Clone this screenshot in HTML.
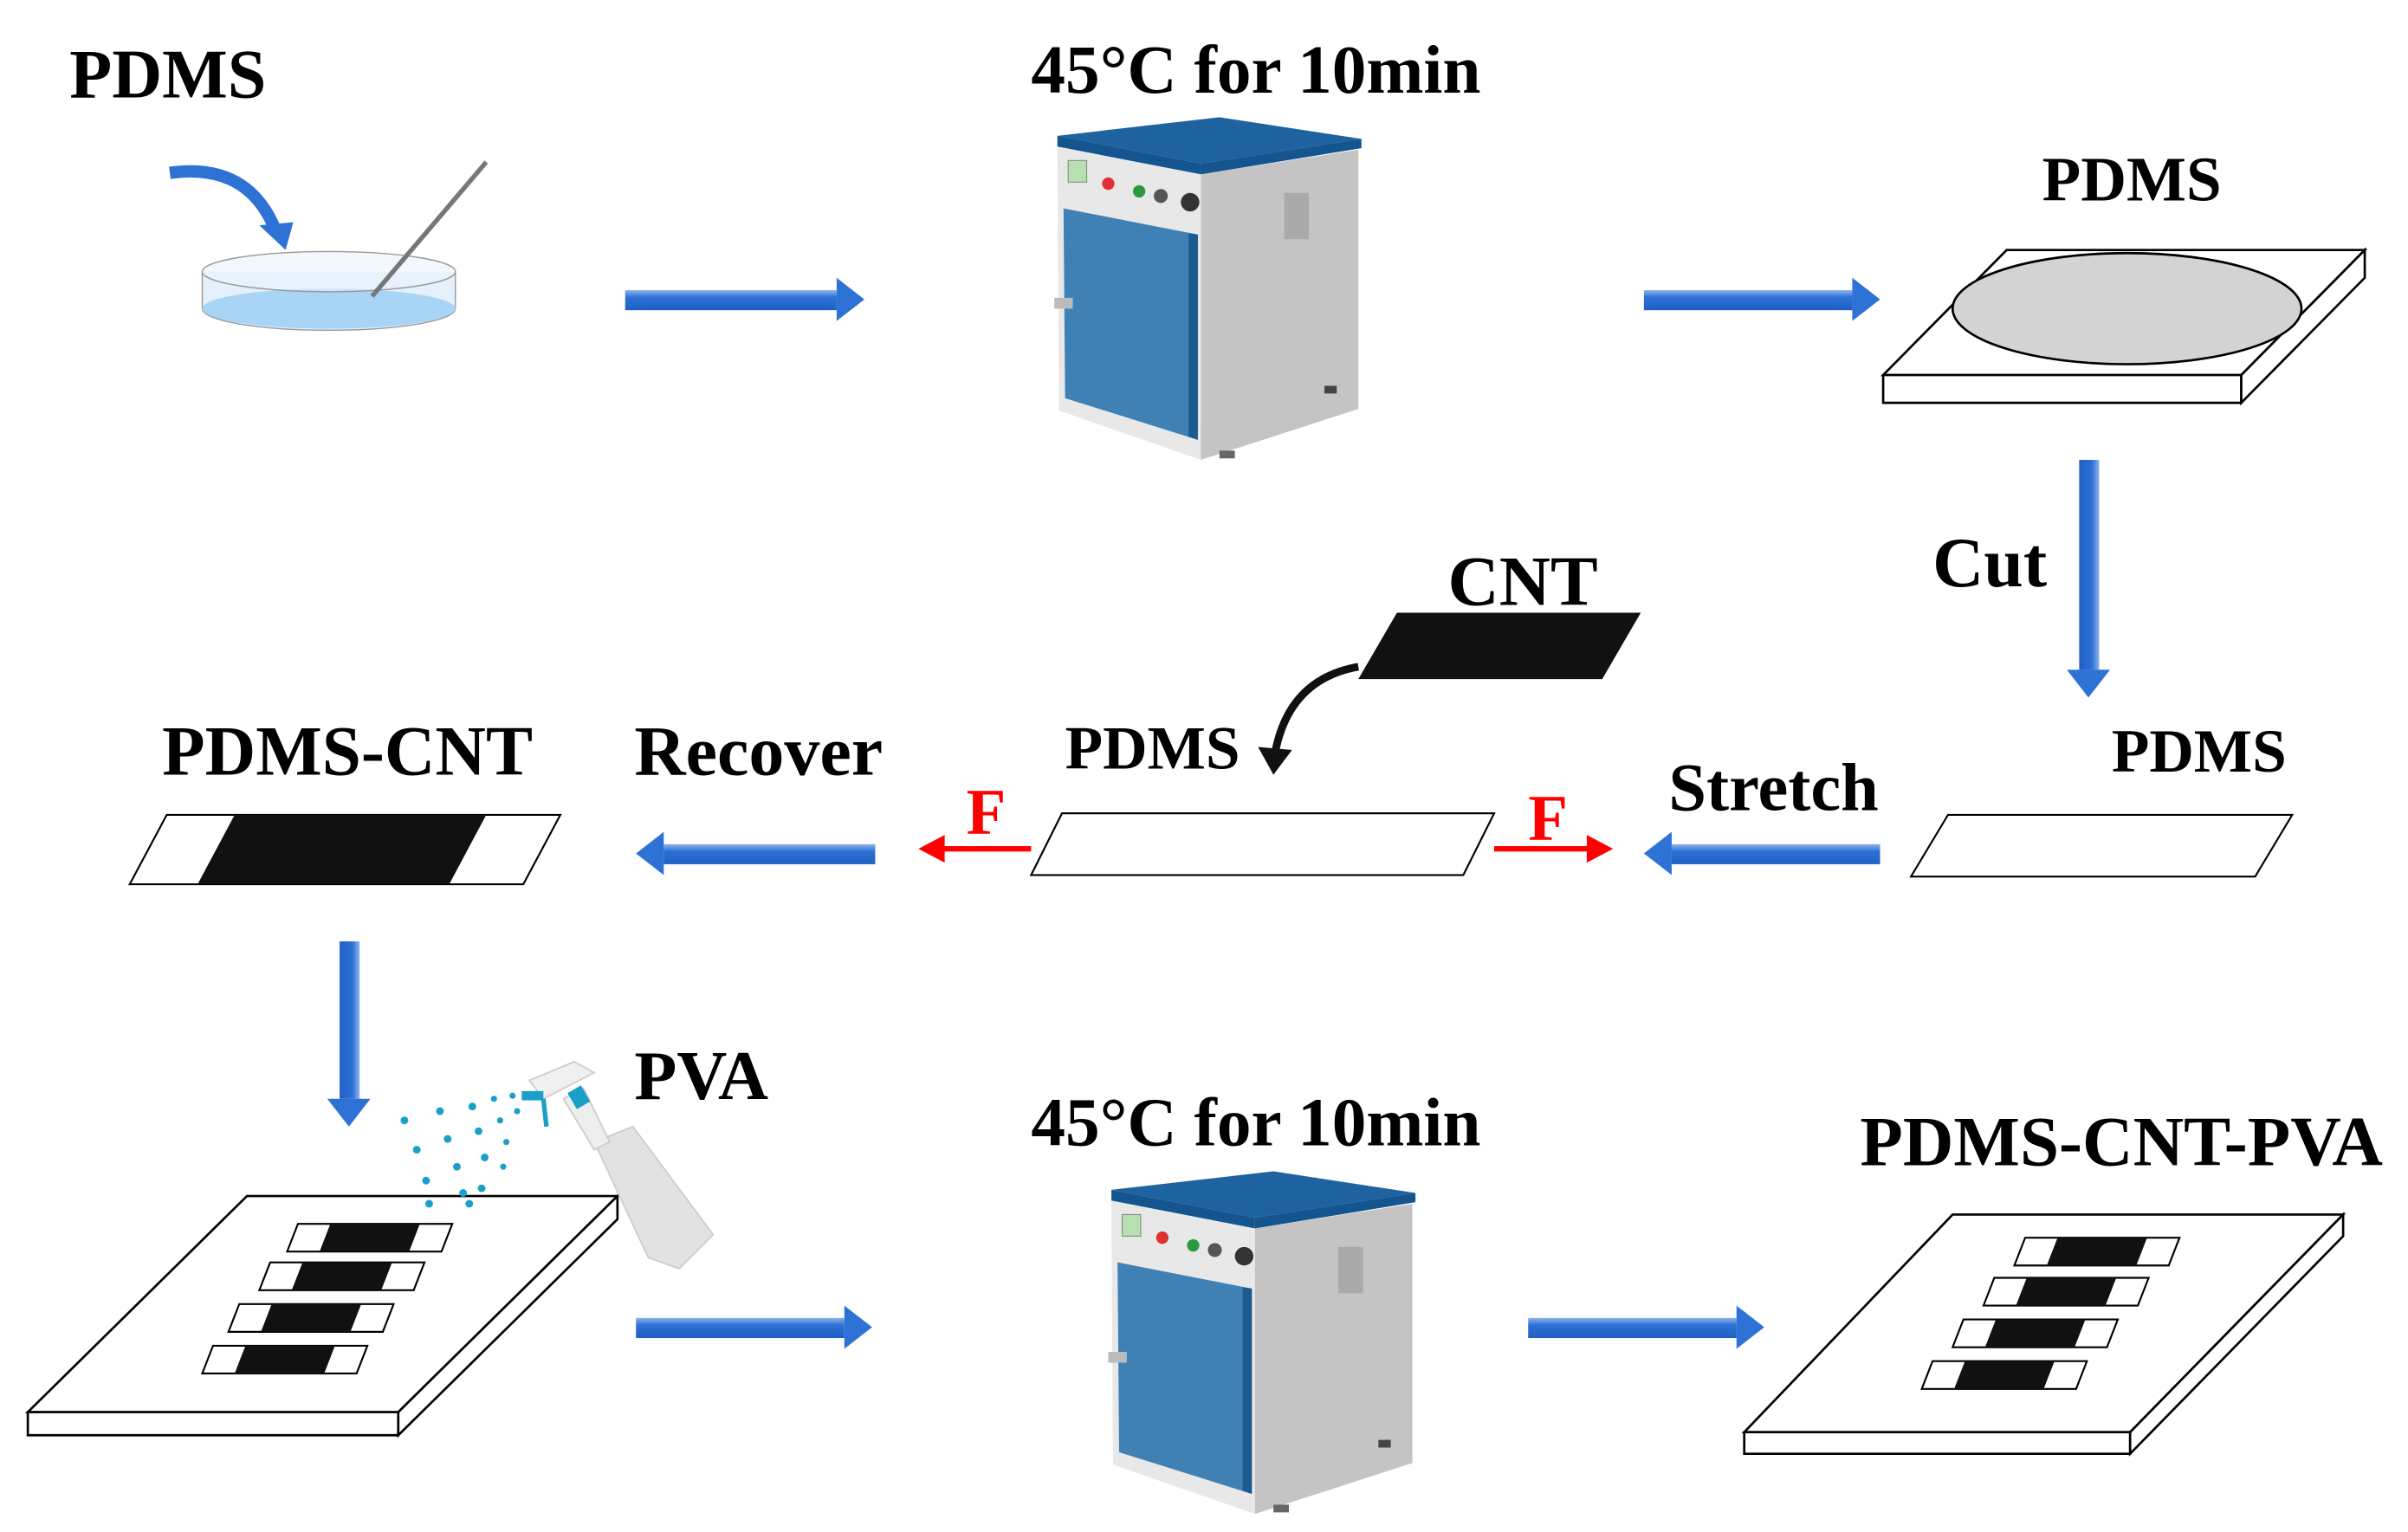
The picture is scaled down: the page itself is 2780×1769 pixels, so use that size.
<!DOCTYPE html>
<html><head><meta charset="utf-8"><style>
html,body{margin:0;padding:0;background:#fff}
svg{display:block}
text{font-family:"Liberation Serif",serif;font-weight:bold;fill:#000}
</style></head><body>
<svg width="2780" height="1769" viewBox="0 0 1560 992.7" xmlns="http://www.w3.org/2000/svg">
<defs>
<linearGradient id="bh" x1="0" y1="0" x2="0" y2="1">
<stop offset="0" stop-color="#8fb4ea"/><stop offset="0.35" stop-color="#2e72d6"/><stop offset="1" stop-color="#1f5fc4"/></linearGradient>
<linearGradient id="bv" x1="0" y1="0" x2="1" y2="0">
<stop offset="0" stop-color="#1f5fc4"/><stop offset="0.65" stop-color="#2e72d6"/><stop offset="1" stop-color="#8fb4ea"/></linearGradient>
<g id="oven">
<polygon points="685,88 790,76 882,90 778,106" fill="#1f62a0"/>
<polygon points="685,88 778,106 778,113 685,95" fill="#15558f"/>
<polygon points="778,106 882,90 882,96 778,113" fill="#15558f"/>
<polygon points="685,95 778,113 778,298 686,266" fill="#e8e8e8"/>
<polygon points="778,113 880,97 880,265 778,298" fill="#c4c4c4"/>
<polygon points="689,135 776,152 776,285 690,258" fill="#3f80b5"/>
<polygon points="770,151 776,152 776,285 770,283" fill="#1d5a8f"/>
<rect x="692" y="104" width="12" height="14" fill="#b6e0b0" stroke="#888" stroke-width="0.6"/>
<circle cx="718" cy="119" r="4" fill="#e03030"/>
<circle cx="738" cy="124" r="4" fill="#2a9a40"/>
<circle cx="752" cy="127" r="4.5" fill="#555"/>
<circle cx="771" cy="131" r="6" fill="#333"/>
<rect x="832" y="125" width="16" height="30" fill="#aaa"/>
<rect x="683" y="193" width="12" height="7" fill="#bbb"/>
<rect x="858" y="250" width="8" height="5" fill="#444"/>
<rect x="790" y="292" width="10" height="5" fill="#666"/>
</g>
<g id="strip">
<polygon points="0,18 7,0 107,0 100,18" fill="#fff" stroke="#000" stroke-width="1.2"/>
<polygon points="21,18 28,0 86,0 79,18" fill="#111"/>
</g>
</defs>

<text x="45" y="63" font-size="45">PDMS</text>
<text x="668" y="60" font-size="44.5">45°C for 10min</text>
<text x="1323" y="130" font-size="41">PDMS</text>

<path d="M110,112 Q160,105 178,148" stroke="#2e72d6" stroke-width="8" fill="none"/>
<polygon points="168,146 190,144 185,162" fill="#2e72d6"/>
<path d="M131,176 L131,200 A82,14 0 0 0 295,200 L295,176" fill="#e4f0fb" stroke="#999" stroke-width="0.8"/>
<ellipse cx="213" cy="200" rx="82" ry="13" fill="#a8d4f5"/>
<ellipse cx="213" cy="176" rx="82" ry="13" fill="#eaf4fd" fill-opacity="0.6" stroke="#999" stroke-width="0.8"/>
<line x1="241" y1="192" x2="315" y2="105" stroke="#777" stroke-width="3"/>

<rect x="405" y="188" width="137" height="13" fill="url(#bh)"/><polygon points="542,180 560,194 542,208" fill="#2e72d6"/>
<rect x="1065" y="188" width="135" height="13" fill="url(#bh)"/><polygon points="1200,180 1218,194 1200,208" fill="#2e72d6"/>

<use href="#oven"/>
<use href="#oven" transform="translate(35,683)"/>

<polygon points="1220,243 1300,162 1532,162 1452,243" fill="#fff" stroke="#000" stroke-width="1.5"/>
<polygon points="1220,243 1452,243 1452,261 1220,261" fill="#fff" stroke="#000" stroke-width="1.5"/>
<polygon points="1452,243 1532,162 1532,180 1452,261" fill="#fff" stroke="#000" stroke-width="1.5"/>
<ellipse cx="1378" cy="200" rx="113" ry="36" fill="#d3d3d3" stroke="#000" stroke-width="1.5"/>

<rect x="1347" y="298" width="13" height="136" fill="url(#bv)"/><polygon points="1339,434 1367,434 1353,452" fill="#2e72d6"/>
<text x="1252" y="380" font-size="46">Cut</text>

<text x="1368" y="500" font-size="40">PDMS</text>
<polygon points="1238,568 1262,528 1485,528 1461,568" fill="#fff" stroke="#000" stroke-width="1.2"/>
<text x="1081" y="525" font-size="44">Stretch</text>
<rect x="1083" y="547" width="135" height="13" fill="url(#bh)"/><polygon points="1083,539 1065,553 1083,567" fill="#2e72d6"/>

<line x1="968" y1="550" x2="1030" y2="550" stroke="#f00" stroke-width="3.5"/>
<polygon points="1028,541 1045,550 1028,559" fill="#f00"/>
<text x="990" y="544" font-size="42" style="fill:#f00">F</text>
<polygon points="668,567 688,527 968,527 948,567" fill="#fff" stroke="#000" stroke-width="1.2"/>
<line x1="610" y1="550" x2="668" y2="550" stroke="#f00" stroke-width="3.5"/>
<polygon points="612,541 595,550 612,559" fill="#f00"/>
<text x="626" y="540" font-size="42" style="fill:#f00">F</text>
<text x="690" y="498" font-size="40">PDMS</text>

<polygon points="880,440 905,397 1063,397 1038,440" fill="#111"/>
<text x="938" y="392" font-size="46">CNT</text>
<path d="M880,432 Q835,440 826,488" stroke="#111" stroke-width="5" fill="none"/>
<polygon points="815,484 837,486 825,502" fill="#111"/>

<rect x="430" y="547" width="137" height="13" fill="url(#bh)"/><polygon points="430,539 412,553 430,567" fill="#2e72d6"/>
<text x="411" y="502" font-size="46">Recover</text>
<text x="105" y="502" font-size="45.5">PDMS-CNT</text>
<polygon points="84,573 108,528 363,528 339,573" fill="#fff" stroke="#000" stroke-width="1.2"/>
<polygon points="128,573 152,528 315,528 291,573" fill="#111"/>

<rect x="220" y="610" width="13" height="102" fill="url(#bv)"/><polygon points="212,712 240,712 226,730" fill="#2e72d6"/>

<polygon points="18,915 160,775 400,775 258,915" fill="#fff" stroke="#000" stroke-width="1.5"/>
<polygon points="18,915 258,915 258,930 18,930" fill="#fff" stroke="#000" stroke-width="1.5"/>
<polygon points="258,915 400,775 400,790 258,930" fill="#fff" stroke="#000" stroke-width="1.5"/>
<use href="#strip" transform="translate(186,793)"/>
<use href="#strip" transform="translate(168,818)"/>
<use href="#strip" transform="translate(148,845)"/>
<use href="#strip" transform="translate(131,872)"/>

<g>
<polygon points="385,740 410,730 462,800 440,822 420,815" fill="#e2e2e2" stroke="#ccc" stroke-width="1"/>
<polygon points="365,712 378,705 395,740 385,745" fill="#eee" stroke="#ccc"/>
<polygon points="343,700 372,688 385,695 352,712" fill="#f0f0f0" stroke="#ccc"/>
<rect x="370" y="705" width="10" height="12" fill="#1aa0c8" transform="rotate(-30 375 711)"/>
<line x1="352" y1="712" x2="354" y2="730" stroke="#1aa0c8" stroke-width="3"/>
<rect x="338" y="707" width="14" height="6" fill="#1aa0c8"/>
</g>
<g fill="#1aa0c8">
<circle cx="262" cy="726" r="2.5"/><circle cx="270" cy="745" r="2.5"/><circle cx="276" cy="765" r="2.5"/>
<circle cx="285" cy="720" r="2.5"/><circle cx="290" cy="738" r="2.5"/><circle cx="296" cy="756" r="2.5"/><circle cx="300" cy="773" r="2.5"/>
<circle cx="306" cy="717" r="2.5"/><circle cx="310" cy="733" r="2.5"/><circle cx="314" cy="750" r="2.5"/><circle cx="312" cy="770" r="2.5"/>
<circle cx="320" cy="712" r="2"/><circle cx="324" cy="726" r="2"/><circle cx="328" cy="740" r="2"/><circle cx="326" cy="756" r="2"/>
<circle cx="332" cy="710" r="2"/><circle cx="335" cy="720" r="2"/><circle cx="278" cy="780" r="2.5"/><circle cx="304" cy="780" r="2.5"/>
</g>
<text x="411" y="712" font-size="45">PVA</text>

<rect x="412" y="854" width="135" height="13" fill="url(#bh)"/><polygon points="547,846 565,860 547,874" fill="#2e72d6"/>
<text x="668" y="742" font-size="44.5">45°C for 10min</text>
<rect x="990" y="854" width="135" height="13" fill="url(#bh)"/><polygon points="1125,846 1143,860 1125,874" fill="#2e72d6"/>

<text x="1205" y="755" font-size="45.5">PDMS-CNT-PVA</text>
<polygon points="1130,928 1265,787 1518,787 1380,928" fill="#fff" stroke="#000" stroke-width="1.5"/>
<polygon points="1130,928 1380,928 1380,942 1130,942" fill="#fff" stroke="#000" stroke-width="1.5"/>
<polygon points="1380,928 1518,787 1518,801 1380,942" fill="#fff" stroke="#000" stroke-width="1.5"/>
<use href="#strip" transform="translate(1305,802)"/>
<use href="#strip" transform="translate(1285,828)"/>
<use href="#strip" transform="translate(1265,855)"/>
<use href="#strip" transform="translate(1245,882)"/>
</svg>
</body></html>
